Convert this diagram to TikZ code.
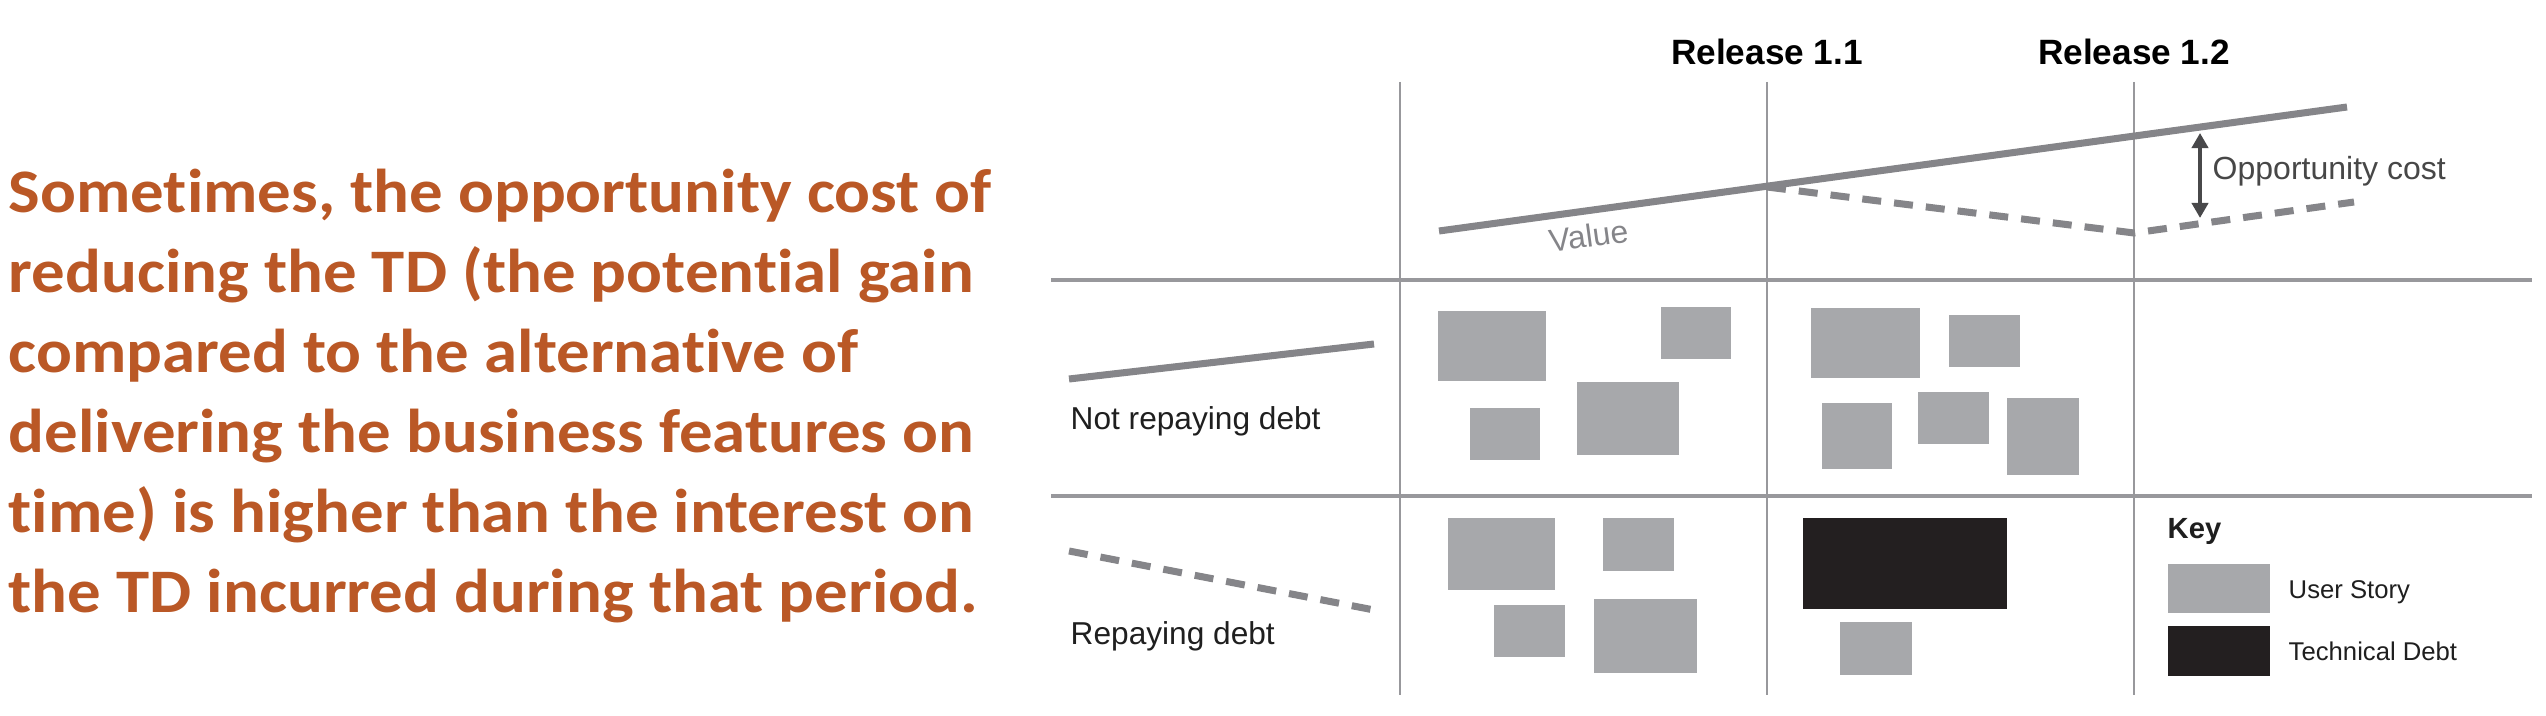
\documentclass[tikz,border=0pt]{standalone}
\usepackage{fontspec}
\setmainfont{Liberation Sans}
\newfontfamily\notefont[FakeStretch=1.08,Ligatures=NoCommon]{Carlito}
\usetikzlibrary{arrows.meta}
\definecolor{rulegray}{RGB}{152,152,156}
\definecolor{trendgray}{RGB}{133,133,137}
\definecolor{storygray}{RGB}{167,168,171}
\definecolor{debtblack}{RGB}{35,31,32}
\definecolor{arrowgray}{RGB}{72,72,74}
\definecolor{notebrown}{RGB}{186,88,38}
\begin{document}
\begin{tikzpicture}[x=0.01cm,y=-0.01cm,
  rowline/.style={rulegray,line width=1.3pt},
  colline/.style={rulegray,line width=0.7pt},
  trend/.style={trendgray,line width=2pt},
  dashtrend/.style={trend,dash pattern=on 5.4pt off 3.7pt},
  lbl/.style={inner sep=0pt,anchor=base west,text=black!88,font=\fontsize{9}{11}\selectfont}]
  \useasboundingbox (0,0) rectangle (2546,716);
  % statement on the left
  \node[anchor=base west,inner sep=0pt,align=left,text=notebrown,
    font=\notefont\bfseries\fontsize{17.6}{22.8}\selectfont] (note) at (8,613)
    {Sometimes, the opportunity cost of\\reducing the TD (the potential gain\\compared to the alternative of\\delivering the business features on\\time) is higher than the interest on\\the TD incurred during that period.};
  % grid
  \draw[rowline] (1051,280) -- (2532,280);
  \draw[rowline] (1051,496) -- (2532,496);
  \foreach \xc in {1400,1767,2134} \draw[colline] (\xc,82) -- (\xc,695);
  \node[inner sep=0pt,anchor=base,font=\bfseries\fontsize{10}{12}\selectfont] (rel11) at (1767,65) {Release 1.1};
  \node[inner sep=0pt,anchor=base,font=\bfseries\fontsize{10}{12}\selectfont] (rel12) at (2134,65) {Release 1.2};
  % value curves
  \draw[trend] (1439,231) -- (2347,107);
  \draw[dashtrend] (1767,187) -- (2134,233) -- (2354,202);
  \node[inner sep=0pt,anchor=base,rotate=7.8,text=trendgray,font=\fontsize{9.1}{11}\selectfont] (value) at (1590,247) {Value};
  \coordinate (oppA) at (2200,133);
  \coordinate (oppB) at (2200,218);
  \draw[arrowgray,line width=1.1pt,{Triangle[width=4.6pt,length=4.3pt]}-{Triangle[width=4.6pt,length=4.3pt]}] (oppA) -- (oppB);
  \node[lbl,text=black!72,font=\fontsize{9.1}{11}\selectfont] (opp) at (2212,180) {Opportunity cost};
  % row legends
  \draw[trend] (1069,379) -- (1374,344);
  \draw[dashtrend] (1069,551) -- (1374,610);
  \node[lbl] (notrepay) at (1070,430) {Not repaying debt};
  \node[lbl] (repay) at (1070,644) {Repaying debt};
  % user stories
  \foreach \xa/\ya/\xb/\yb in {1438/311/1546/381,1661/307/1731/359,1470/408/1540/460,1577/382/1679/455,
    1448/518/1555/590,1603/518/1674/571,1494/605/1565/657,1594/599/1697/673,
    1811/308/1920/378,1949/315/2020/367,1822/403/1892/469,1918/392/1989/444,2007/398/2079/475,
    1840/622/1912/675,2168/564/2270/613}
    \fill[storygray] (\xa,\ya) rectangle (\xb,\yb);
  % technical debt
  \fill[debtblack] (1803,518) rectangle (2007,609);
  \fill[debtblack] (2168,626) rectangle (2270,676);
  % key
  \node[lbl,font=\bfseries\fontsize{8.3}{10}\selectfont] (key) at (2167,539) {Key};
  \node[lbl,font=\fontsize{7.3}{9}\selectfont] (story) at (2288,598) {User Story};
  \node[lbl,font=\fontsize{7.3}{9}\selectfont] (debt) at (2288,660) {Technical Debt};
\end{tikzpicture}
\end{document}
